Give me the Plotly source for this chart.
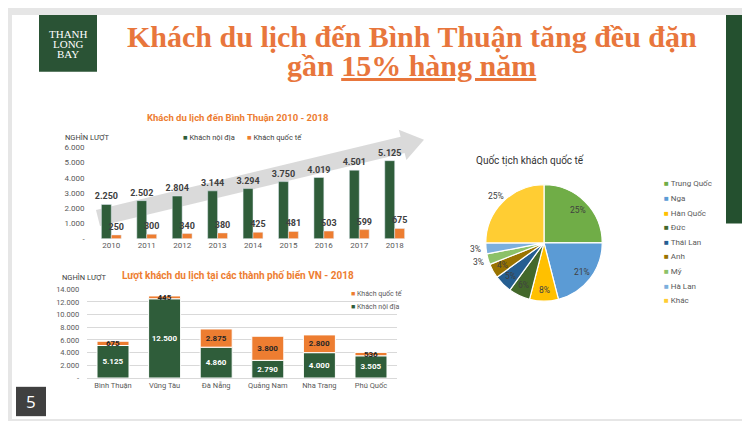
import math
import plotly.graph_objects as go

W, H = 750, 421

# ---------------- data ----------------
years = ["2010", "2011", "2012", "2013", "2014", "2015", "2016", "2017", "2018"]
domestic_bt = [2250, 2502, 2804, 3144, 3294, 3750, 4019, 4501, 5125]
intl_bt = [250, 300, 340, 380, 425, 481, 503, 599, 675]
y1_tickvals = [0, 1000, 2000, 3000, 4000, 5000, 6000]
y1_ticktext = ["-", "1.000", "2.000", "3.000", "4.000", "5.000", "6.000"]

cities = ["Bình Thuận", "Vũng Tàu", "Đà Nẵng", "Quảng Nam", "Nha Trang", "Phú Quốc"]
domestic_city = [5125, 12500, 4860, 2790, 4000, 3505]
intl_city = [675, 445, 2875, 3800, 2800, 536]
y2_tickvals = [0, 2000, 4000, 6000, 8000, 10000, 12000, 14000]
y2_ticktext = ["-", "2.000", "4.000", "6.000", "8.000", "10.000", "12.000", "14.000"]

nationalities = ["Trung Quốc", "Nga", "Hàn Quốc", "Đức", "Thái Lan", "Anh", "Mỹ", "Hà Lan", "Khác"]
nat_share = [25, 21, 8, 6, 5, 4, 3, 3, 25]
nat_colors = ["#70AD47", "#5B9BD5", "#FFC000", "#43682B", "#255E91",
              "#997300", "#8CC168", "#7CAFDD", "#FFCD33"]
nat_outside = [False] * 6 + [True] * 3

series_names = ["Khách nội địa", "Khách quốc tế"]

# ---------------- styles ----------------
GREEN = "#2F5D3A"
ORANGE = "#ED7D31"
TITLE_OR = "#E8763C"
DARK = "#404040"
GRAY = "#595959"
FONT = "Roboto"


def X(p):
    return p / W


def Y(p):
    return 1 - p / H


fig = go.Figure()

# chart 1 : grouped bars (side by side)
BW1 = 0.28
fig.add_trace(go.Bar(
    x=years, y=domestic_bt, name=series_names[0], marker_color=GREEN,
    xaxis="x", yaxis="y", width=BW1, offset=-BW1,
    texttemplate="%{y:,.0f}", textposition="outside",
    constraintext="none", cliponaxis=False,
    textfont=dict(size=9, color=DARK, family=FONT, weight="bold"), showlegend=False))
fig.add_trace(go.Bar(
    x=years, y=intl_bt, name=series_names[1], marker_color=ORANGE,
    xaxis="x", yaxis="y", width=BW1, offset=0,
    texttemplate="%{y:,.0f}", textposition="outside",
    constraintext="none", cliponaxis=False,
    textfont=dict(size=9, color=DARK, family=FONT, weight="bold"), showlegend=False))

# chart 2 : stacked bars (orange starts where green ends)
BW2 = 0.62
fig.add_trace(go.Bar(
    x=cities, y=domestic_city, name=series_names[0], marker_color=GREEN,
    marker_line=dict(color="white", width=1),
    xaxis="x2", yaxis="y2", width=BW2, offset=-BW2 / 2,
    texttemplate="%{y:,.0f}", textposition="inside", insidetextanchor="middle",
    textangle=0, constraintext="none",
    textfont=dict(size=8, color="white", family=FONT, weight="bold"), showlegend=False))
fig.add_trace(go.Bar(
    x=cities, y=intl_city, base=domestic_city, name=series_names[1], marker_color=ORANGE,
    marker_line=dict(color="white", width=1),
    xaxis="x2", yaxis="y2", width=BW2, offset=-BW2 / 2,
    texttemplate="%{y:,.0f}", textposition="inside", insidetextanchor="middle",
    textangle=0, constraintext="none",
    textfont=dict(size=8, color="#262626", family=FONT, weight="bold"), showlegend=False))

# pie
PCX, PCY, PR = 536.0, 236.0, 59.5
fig.add_trace(go.Pie(
    labels=nationalities, values=nat_share, sort=False, direction="clockwise", rotation=0,
    marker=dict(colors=nat_colors, line=dict(color="white", width=1.2)),
    textinfo="none",
    domain=dict(x=[X(PCX - PR), X(PCX + PR)], y=[Y(PCY + PR), Y(PCY - PR)]),
    showlegend=False, hoverinfo="skip"))

axis_font = dict(size=8, color=GRAY, family=FONT)

shapes = [
    # white slide
    dict(type="rect", xref="paper", yref="paper", x0=X(4), x1=X(745), y0=Y(416), y1=Y(3),
         fillcolor="white", line_width=0, layer="below"),
    # right green bar
    dict(type="rect", xref="paper", yref="paper", x0=X(718), x1=X(745), y0=Y(216), y1=Y(3),
         fillcolor="#24502F", line_width=0, layer="below"),
    # logo box
    dict(type="rect", xref="paper", yref="paper", x0=X(31), x1=X(89), y0=Y(61), y1=Y(3),
         fillcolor="#2A5335", line_width=0, layer="below"),
    # page number box
    dict(type="rect", xref="paper", yref="paper", x0=X(8), x1=X(38), y0=Y(413), y1=Y(383),
         fillcolor="#404040", line_width=0, layer="below"),
]

# growth arrow (decoration behind chart 1)
arrow_pts = [(88.0, 202.3), (392.6, 127.5), (390.8, 120.2), (416.0, 130.5),
             (398.4, 151.2), (396.6, 144.0), (92.0, 218.8)]
path = "M " + " L ".join(f"{X(a):.5f},{Y(b):.5f}" for a, b in arrow_pts) + " Z"
shapes.append(dict(type="path", xref="paper", yref="paper", path=path,
                   fillcolor="#D4D4D4", opacity=0.85, line_width=0, layer="below"))

ann = []


def txt(x, y, text, size, color, family=FONT, xanchor="center", bold=False):
    t = f"<b>{text}</b>" if bold else text
    ann.append(dict(x=X(x), y=Y(y), xref="paper", yref="paper", text=t, showarrow=False,
                    xanchor=xanchor, yanchor="middle",
                    font=dict(size=size, color=color, family=family)))


# main title
txt(403.5, 25, "Khách du lịch đến Bình Thuận tăng đều đặn", 30, TITLE_OR,
    family="Liberation Serif", bold=True)
txt(403.5, 55, "gần <u>15% hàng năm</u>", 30, TITLE_OR, family="Liberation Serif", bold=True)

# logo text
txt(60, 22, "THANH", 11, "white", family="Liberation Serif")
txt(60, 32.5, "LONG", 11, "white", family="Liberation Serif")
txt(60, 43, "BAY", 11, "white", family="Liberation Serif")

# page number
txt(23, 398, "5", 17, "white", family="Open Sans")

# chart 1 texts
txt(230, 108, "Khách du lịch đến Bình Thuận 2010 - 2018", 9.5, ORANGE, bold=True)
txt(55, 128.5, "NGHÌN LƯỢT", 7.5, DARK, xanchor="left")
txt(173, 128.5, f"<span style='color:{GREEN}'>■</span> {series_names[0]}", 7.5, DARK, xanchor="left")
txt(237, 128.5, f"<span style='color:{ORANGE}'>■</span> {series_names[1]}", 7.5, DARK, xanchor="left")

# chart 2 texts
txt(230, 270, "Lượt khách du lịch tại các thành phố biển VN - 2018", 10, ORANGE, bold=True)
txt(52, 271.5, "NGHÌN LƯỢT", 7.5, DARK, xanchor="left")
txt(341, 288, f"<span style='color:{ORANGE}'>■</span> {series_names[1]}", 7, GRAY, xanchor="left")
txt(341, 301.5, f"<span style='color:{GREEN}'>■</span> {series_names[0]}", 7, GRAY, xanchor="left")

# pie title, percentage labels (from the shares) and legend
txt(522, 152, "Quốc tịch khách quốc tế", 10, "#333333")
total = sum(nat_share)
cum = 0.0
for share, outside in zip(nat_share, nat_outside):
    mid = (cum + share / 2) / total * 2 * math.pi
    cum += share
    r = PR + 9 if outside else PR * 0.8
    txt(PCX + r * math.sin(mid), PCY - r * math.cos(mid), f"{round(share / total * 100)}%",
        8.5, DARK)
for i, (lab, col) in enumerate(zip(nationalities, nat_colors)):
    txt(654, 175.7 + i * 14.9, f"<span style='color:{col}'>■</span> {lab}", 8, GRAY, xanchor="left")

fig.update_layout(
    width=W, height=H, margin=dict(l=0, r=0, t=0, b=0),
    paper_bgcolor="#E6E6E6", plot_bgcolor="rgba(0,0,0,0)",
    separators=",.", barmode="overlay",
    showlegend=False, hovermode=False,
    font=dict(family=FONT),
    xaxis=dict(domain=[X(85.6), X(404.4)], anchor="y", type="category",
               showline=False, ticks="", tickfont=axis_font, showgrid=False, zeroline=False),
    yaxis=dict(domain=[Y(231.7), Y(138.3)], anchor="x", range=[0, 6000],
               tickvals=y1_tickvals, ticktext=y1_ticktext, tickfont=axis_font,
               showgrid=False, zeroline=False, showline=False, ticks="", ticklabelstandoff=8),
    xaxis2=dict(domain=[X(79.2), X(388.8)], anchor="y2", type="category",
                showline=True, linecolor="#D9D9D9", linewidth=1, ticks="",
                tickfont=dict(size=7.5, color=GRAY, family=FONT), showgrid=False, zeroline=False),
    yaxis2=dict(domain=[Y(374), Y(283.3)], anchor="x2", range=[0, 14000],
                tickvals=y2_tickvals, ticktext=y2_ticktext,
                tickfont=dict(size=7.5, color=GRAY, family=FONT),
                showgrid=True, gridcolor="#D9D9D9", gridwidth=0.8, zeroline=False,
                showline=False, ticks="", ticklabelstandoff=7),
    shapes=shapes, annotations=ann,
)

fig.write_html("out.html")
